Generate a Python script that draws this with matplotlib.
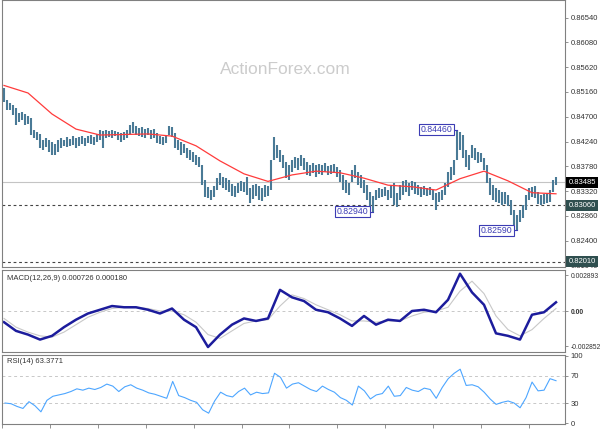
import matplotlib.pyplot as plt
import matplotlib.transforms as mtransforms
import numpy as np

# EURGBP H4 bars (high / low), one value per bar
highs = [
    0.8523, 0.8501, 0.8496, 0.8492, 0.8486, 0.8477, 0.8479, 0.8475, 0.8471, 0.8468,
    0.8445, 0.8442, 0.8438, 0.8427, 0.8431, 0.8427, 0.8423, 0.8419, 0.8427, 0.8431,
    0.8427, 0.8432, 0.8429, 0.8434, 0.8431, 0.8432, 0.8434, 0.8431, 0.8434, 0.8436,
    0.8432, 0.8438, 0.8445, 0.8443, 0.8445, 0.8443, 0.8445, 0.8443, 0.8442, 0.8440,
    0.8442, 0.8445, 0.8455, 0.8460, 0.8453, 0.8449, 0.8451, 0.8447, 0.8449, 0.8445,
    0.8447, 0.8440, 0.8434, 0.8432, 0.8434, 0.8453, 0.8451, 0.8440, 0.8427, 0.8423,
    0.8419, 0.8412, 0.8408, 0.8405, 0.8399, 0.8395, 0.8380, 0.8353, 0.8340, 0.8334,
    0.8342, 0.8356, 0.8366, 0.8358, 0.8356, 0.8353, 0.8345, 0.8342, 0.8347, 0.8351,
    0.8349, 0.8358, 0.8338, 0.8343, 0.8345, 0.8342, 0.8338, 0.8343, 0.8342, 0.8390,
    0.8432, 0.8418, 0.8408, 0.8399, 0.8386, 0.8380, 0.8390, 0.8395, 0.8393, 0.8399,
    0.8393, 0.8386, 0.8380, 0.8384, 0.8380, 0.8382, 0.8380, 0.8384, 0.8379, 0.8380,
    0.8382, 0.8377, 0.8371, 0.8362, 0.8353, 0.8347, 0.8371, 0.8380, 0.8367, 0.8362,
    0.8353, 0.8343, 0.8330, 0.8323, 0.8334, 0.8338, 0.8336, 0.8340, 0.8334, 0.8342,
    0.8347, 0.8329, 0.8343, 0.8351, 0.8353, 0.8347, 0.8351, 0.8349, 0.8343, 0.8340,
    0.8342, 0.8338, 0.8340, 0.8334, 0.8329, 0.8330, 0.8334, 0.8347, 0.8367, 0.8377,
    0.8390, 0.8446, 0.8442, 0.8436, 0.8408, 0.8399, 0.8418, 0.8412, 0.8405, 0.8403,
    0.8393, 0.8380, 0.8356, 0.8343, 0.8338, 0.8334, 0.8330, 0.8330, 0.8325, 0.8316,
    0.8297, 0.8288, 0.8297, 0.8306, 0.8325, 0.8338, 0.8340, 0.8342, 0.8330, 0.8325,
    0.8327, 0.8329, 0.8334, 0.8353, 0.8358,
]
lows = [
    0.8497, 0.8482, 0.8482, 0.8473, 0.8455, 0.8460, 0.8464, 0.8455, 0.8456, 0.8436,
    0.8431, 0.8427, 0.8412, 0.8408, 0.8414, 0.8405, 0.8399, 0.8399, 0.8405, 0.8412,
    0.8416, 0.8414, 0.8416, 0.8418, 0.8412, 0.8416, 0.8419, 0.8416, 0.8421, 0.8419,
    0.8418, 0.8423, 0.8427, 0.8412, 0.8431, 0.8432, 0.8431, 0.8434, 0.8427, 0.8423,
    0.8427, 0.8431, 0.8436, 0.8440, 0.8436, 0.8434, 0.8432, 0.8431, 0.8436, 0.8429,
    0.8431, 0.8421, 0.8419, 0.8418, 0.8421, 0.8436, 0.8432, 0.8412, 0.8408, 0.8399,
    0.8403, 0.8393, 0.8390, 0.8386, 0.8380, 0.8377, 0.8343, 0.8321, 0.8319, 0.8316,
    0.8321, 0.8334, 0.8343, 0.8338, 0.8334, 0.8330, 0.8323, 0.8321, 0.8329, 0.8332,
    0.8330, 0.8325, 0.8310, 0.8317, 0.8323, 0.8316, 0.8314, 0.8321, 0.8323, 0.8334,
    0.8390, 0.8393, 0.8386, 0.8375, 0.8356, 0.8353, 0.8367, 0.8375, 0.8371, 0.8379,
    0.8371, 0.8362, 0.8360, 0.8366, 0.8358, 0.8364, 0.8362, 0.8367, 0.8362, 0.8364,
    0.8366, 0.8358, 0.8349, 0.8334, 0.8329, 0.8325, 0.8349, 0.8356, 0.8343, 0.8338,
    0.8329, 0.8316, 0.8303, 0.8294, 0.8316, 0.8319, 0.8321, 0.8323, 0.8316, 0.8319,
    0.8306, 0.8303, 0.8316, 0.8325, 0.8330, 0.8323, 0.8334, 0.8327, 0.8325, 0.8321,
    0.8325, 0.8323, 0.8325, 0.8316, 0.8297, 0.8312, 0.8316, 0.8325, 0.8340, 0.8353,
    0.8362, 0.8390, 0.8408, 0.8393, 0.8377, 0.8371, 0.8393, 0.8390, 0.8384, 0.8386,
    0.8371, 0.8347, 0.8325, 0.8316, 0.8312, 0.8310, 0.8306, 0.8308, 0.8304, 0.8288,
    0.8269, 0.8259, 0.8275, 0.8282, 0.8297, 0.8316, 0.8321, 0.8319, 0.8308, 0.8306,
    0.8308, 0.8310, 0.8312, 0.8330, 0.8343,
]

# moving average, read every 8 bars
ma_vals = [0.8528, 0.8514, 0.8475, 0.8447, 0.8436, 0.8437, 0.8438, 0.8434,
           0.8416, 0.8388, 0.8364, 0.8350, 0.8362, 0.8369, 0.8366, 0.8356,
           0.8343, 0.8340, 0.8334, 0.8355, 0.8369, 0.8351, 0.8329, 0.8327]

# MACD(12,26,9) main and signal, read every 4 bars
macd_vals = [-0.0009, -0.0016, -0.0019, -0.0023, -0.0020, -0.0013, -0.0007, -0.0002,
             0.0001, 0.0004, 0.0003, 0.0003, 0.0001, -0.0002, 0.0002, -0.0007,
             -0.0013, -0.0029, -0.0019, -0.0011, -0.0006, -0.0008, -0.0006, 0.0017,
             0.0011, 0.0008, 0.0001, -0.0001, -0.0006, -0.0012, -0.0004, -0.0011,
             -0.0007, -0.0008, 0.0000, 0.0001, -0.0001, 0.0009, 0.0030, 0.0015,
             0.0005, -0.0018, -0.0020, -0.0023, -0.0003, -0.0001, 0.0007]
signal_vals = [-0.0006, -0.0013, -0.0017, -0.0020, -0.0021, -0.0017, -0.0011, -0.0005,
               -0.0001, 0.0002, 0.0003, 0.0003, 0.0002, 0.0000, 0.0000, -0.0003,
               -0.0009, -0.0019, -0.0022, -0.0016, -0.0010, -0.0008, -0.0007, 0.0004,
               0.0013, 0.0010, 0.0005, 0.0001, -0.0003, -0.0008, -0.0008, -0.0009,
               -0.0008, -0.0008, -0.0004, -0.0001, 0.0000, 0.0003, 0.0016, 0.0024,
               0.0014, -0.0004, -0.0015, -0.0020, -0.0015, -0.0006, 0.0002]

# RSI(14), read every 2 bars
rsi_vals = [30, 29, 25, 22, 32, 26, 17, 34, 40, 42, 44, 47, 51, 49, 52, 50,
            53, 58, 55, 47, 54, 57, 52, 49, 45, 43, 40, 37, 62, 41, 38, 34,
            31, 20, 15, 33, 46, 41, 39, 47, 52, 42, 46, 44, 45, 74, 68, 52,
            58, 60, 55, 50, 47, 55, 50, 46, 38, 34, 27, 55, 48, 36, 42, 44,
            55, 40, 41, 53, 49, 47, 52, 50, 37, 53, 66, 74, 80, 56, 57, 54,
            46, 36, 28, 31, 33, 30, 23, 38, 61, 48, 49, 66, 63]

price_ticks = [0.81940, 0.82400, 0.82860, 0.83320, 0.83780, 0.84240,
               0.84700, 0.85160, 0.85620, 0.86080, 0.86540]
last_price = 0.83485
levels = [0.83060, 0.82010]
swing_idx = [151, 123, 171]
swing_price = [0.84460, 0.82940, 0.82590]
date_ticks = [-1, 15, 31, 47, 63, 79, 95, 111, 127, 143, 159, 175]
date_labels = ["26 Sep 2024", "30 Sep 16:00", "3 Oct 08:00", "8 Oct 00:00",
               "10 Oct 16:00", "15 Oct 08:00", "18 Oct 00:00", "22 Oct 16:00",
               "25 Oct 08:00", "30 Oct 00:00", "1 Nov 16:00", "6 Nov 08:00"]

FONT = "Liberation Sans"
AX_COL = "#808080"
TXT_COL = "#333333"
n = len(highs)
x = np.arange(n)

fig = plt.figure(figsize=(6, 4.3), dpi=100)
ax1 = fig.add_axes([2/600, 163/430, 563/600, 267/430])
ax2 = fig.add_axes([2/600, 78/430, 563/600, 82/430])
ax3 = fig.add_axes([2/600, 6/430, 563/600, 69/430])

for ax in (ax1, ax2, ax3):
    ax.set_xlim(-0.67, 187)
    for s in ax.spines.values():
        s.set_color(AX_COL)
        s.set_linewidth(0.8)
    ax.yaxis.tick_right()
    ax.tick_params(axis="y", direction="out", length=2.5, width=0.6, color=AX_COL,
                   labelsize=5.5, pad=1.5, labelcolor=TXT_COL)

# ---- price panel
ax1.set_ylim(0.81912, 0.86865)
ax1.axhline(last_price, color="#c4c4c4", lw=0.8, zorder=1)
for lv in levels:
    ax1.axhline(lv, color="#444444", lw=0.8, ls=(0, (2.5, 2.5)), zorder=1)
ax1.vlines(x, lows, highs, color="#4a7a96", lw=1.5, zorder=2)
ax1.plot(np.arange(0, n, 8), ma_vals, color="#ff3b3b", lw=0.9, zorder=3)
ax1.set_xticks([])
ax1.set_yticks(price_ticks)
ax1.set_yticklabels([f"{t:.5f}" for t in price_ticks], family=FONT)

trans1 = mtransforms.blended_transform_factory(ax1.transAxes, ax1.transData)
ax1.text(1.006, last_price, f"{last_price:.5f}", transform=trans1, ha="left",
         va="center", fontsize=5.5, family=FONT, color="white", zorder=10,
         bbox=dict(boxstyle="square,pad=0.25", fc="black", ec="none"), clip_on=False)
for lv in levels:
    ax1.text(1.006, lv, f"{lv:.5f}", transform=trans1, ha="left", va="center",
             fontsize=5.5, family=FONT, color="white", zorder=10,
             bbox=dict(boxstyle="square,pad=0.25", fc="#2f4f4f", ec="none"),
             clip_on=False)

for idx, pr in zip(swing_idx, swing_price):
    ax1.plot([idx - 1.6, idx], [pr, pr], color="#3c3cb4", lw=0.8, zorder=4)
    ax1.text(idx - 1.6, pr, f"{pr:.5f}", ha="right", va="center", fontsize=6.3,
             family=FONT, color="#3c3cb4", zorder=5,
             bbox=dict(boxstyle="square,pad=0.15", fc="white", ec="#3c3cb4", lw=0.8))

ax1.text(0.503, 0.738, "ActionForex.com", transform=ax1.transAxes, ha="center",
         va="center", fontsize=12.5, family=FONT, color="#cccccc")
fig.text(15/600, 1 + 3/430, "EURGBP,H4  0.83485 0.83485 0.83434 0.83485",
         ha="left", va="center", fontsize=5.5, family=FONT, color="#666666")

# ---- MACD panel
ax2.set_ylim(-0.0033, 0.0033)
ax2.axhline(0, color="#c8c8c8", lw=0.7, ls=(0, (3, 3)))
x4 = np.arange(0, n, 4)
ax2.plot(x4, signal_vals, color="#c8c8c8", lw=0.8)
ax2.plot(x4, macd_vals, color="#1c1c9c", lw=1.8)
ax2.set_xticks([])
ax2.set_yticks([-0.002852, 0, 0.002893])
ax2.set_yticklabels(["-0.002852", "0.00", "0.002893"], family=FONT, fontsize=4.9)
ax2.get_yticklabels()[1].set_fontweight("bold")
ax2.text(0.008, 0.9, "MACD(12,26,9) 0.000726 0.000180", transform=ax2.transAxes,
         ha="left", va="center", fontsize=5.5, family=FONT, color=TXT_COL)

# ---- RSI panel
ax3.set_ylim(-1, 101)
for lv in (70, 30):
    ax3.axhline(lv, color="#c8c8c8", lw=0.7, ls=(0, (3, 3)))
ax3.plot(np.arange(0, n, 2), rsi_vals, color="#4da6ff", lw=0.8)
ax3.set_yticks([0, 30, 70, 100])
ax3.set_yticklabels(["0", "30", "70", "100"], family=FONT)
ax3.text(0.008, 0.9, "RSI(14) 63.3771", transform=ax3.transAxes, ha="left",
         va="center", fontsize=5.5, family=FONT, color=TXT_COL)
ax3.set_xticks(date_ticks)
ax3.set_xticklabels(date_labels, family=FONT)
ax3.tick_params(axis="x", direction="out", length=3, width=0.6, color=AX_COL,
                labelsize=5.5, pad=1, labelcolor=TXT_COL)
for lbl in ax3.get_xticklabels():
    lbl.set_ha("left")

fig.savefig("out.png", dpi=100, facecolor="white")
